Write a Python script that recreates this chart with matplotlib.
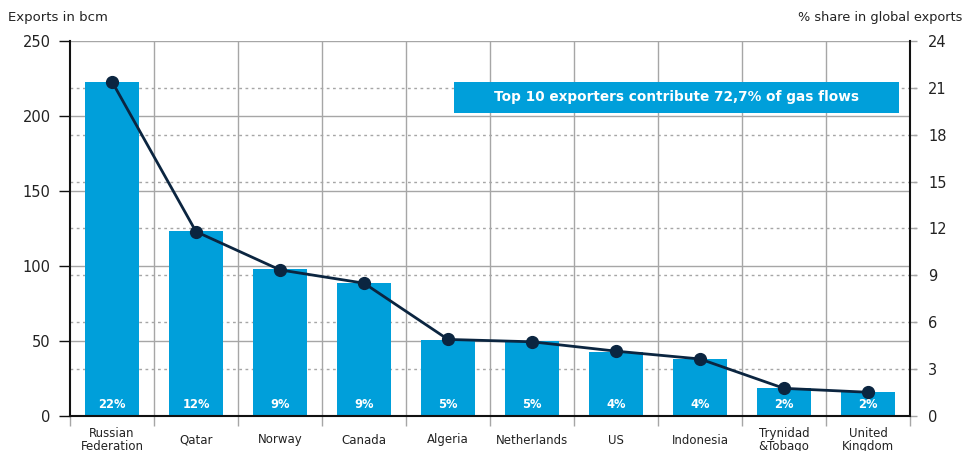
import matplotlib
matplotlib.use("Agg")
import matplotlib.pyplot as plt
import matplotlib.transforms as mtransforms

categories = ["Russian\nFederation", "Qatar", "Norway", "Canada", "Algeria",
              "Netherlands", "US", "Indonesia", "Trynidad\n&Tobago", "United\nKingdom"]
exports_bcm = [222.5, 123, 98, 89, 51, 50, 43, 38, 18.5, 16]
share_pct = [21.4, 11.8, 9.35, 8.5, 4.9, 4.75, 4.15, 3.65, 1.77, 1.52]
bar_labels = ["22%", "12%", "9%", "9%", "5%", "5%", "4%", "4%", "2%", "2%"]
left_ticks = [0, 50, 100, 150, 200, 250]
right_ticks = [0, 3, 6, 9, 12, 15, 18, 21, 24]
banner_text = "Top 10 exporters contribute 72,7% of gas flows"

BAR = "#009FDA"
LINE = "#0B2540"
GRID = "#A6A6A6"
TXT = "#222222"

plt.rcParams['font.family'] = ['DejaVu Sans']

fig = plt.figure(figsize=(9.64, 4.51), dpi=100)
ax = fig.add_axes([70/964, 35/451, 840/964, 375/451])
ax2 = ax.twinx()

x = list(range(len(categories)))
ax.set_xlim(-0.5, len(categories) - 0.5)
ax.set_ylim(0, 250)
ax2.set_ylim(0, 24)

# vertical separators
for i in range(1, len(categories)):
    ax.axvline(i - 0.5, color=GRID, lw=1, zorder=1)
# solid gridlines (left ticks)
for v in left_ticks[1:]:
    ax.axhline(v, color=GRID, lw=1, zorder=1)
# dashed gridlines (right ticks)
trans = mtransforms.blended_transform_factory(ax.transAxes, ax2.transData)
for v in right_ticks[1:-1]:
    ax.plot([0, 1.008], [v, v], transform=trans, color=GRID, lw=1,
            ls=(0, (2, 2.5)), zorder=1, clip_on=False)

ax.bar(x, exports_bcm, width=0.64, color=BAR, zorder=2)
for xi, lab in zip(x, bar_labels):
    ax.text(xi, 3.5, lab, ha='center', va='bottom', color='white',
            fontsize=8.3, fontweight='bold', zorder=3)

ax2.plot(x, share_pct, color=LINE, lw=2.0, marker='o', markersize=8.5, zorder=5)

# axes styling
ax.spines['top'].set_visible(False)
ax2.spines['top'].set_visible(False)
ax.spines['left'].set_color('#111111')
ax.spines['bottom'].set_color('#111111')
ax2.spines['right'].set_color('#111111')
ax2.spines['left'].set_visible(False)
ax2.spines['bottom'].set_visible(False)
for sp in ['left', 'bottom']:
    ax.spines[sp].set_linewidth(1.5)
ax2.spines['right'].set_linewidth(1.5)
ax.spines['right'].set_visible(False)

ax.set_yticks(left_ticks)
ax.tick_params(axis='y', direction='out', length=8, width=1, colors='#111111',
               labelsize=10.5, labelcolor=TXT, pad=6)
ax2.set_yticks(right_ticks)
ax2.tick_params(axis='y', direction='out', length=5, width=1, colors=GRID,
                labelsize=10.5, labelcolor=TXT, pad=8)

ax.set_xticks([i - 0.5 for i in range(len(categories) + 1)])
ax.set_xticklabels([])
ax.tick_params(axis='x', direction='out', length=7, width=1, colors=GRID)

tx = mtransforms.blended_transform_factory(ax.transData, ax.transAxes)
for xi, c in zip(x, categories):
    ax.text(xi, -0.064, c, transform=tx, ha='center', va='center',
            fontsize=8.5, color=TXT, linespacing=0.95, clip_on=False)

fig.text(8/964, 1 - 18/451, "Exports in bcm", ha='left', va='center',
         fontsize=9.5, color=TXT)
fig.text(962/964, 1 - 18/451, "% share in global exports", ha='right', va='center',
         fontsize=9.3, color=TXT)

# banner
bx0, bx1 = 454/964, 899/964
by0, by1 = 1 - 113/451, 1 - 82/451
fig.patches.append(matplotlib.patches.Rectangle((bx0, by0), bx1 - bx0, by1 - by0,
                   transform=fig.transFigure, facecolor=BAR, edgecolor='none', zorder=10))
fig.text((bx0 + bx1) / 2, (by0 + by1) / 2, banner_text, ha='center', va='center',
         color='white', fontsize=9.8, fontweight='bold', zorder=11)

fig.savefig("out.png", dpi=100)
